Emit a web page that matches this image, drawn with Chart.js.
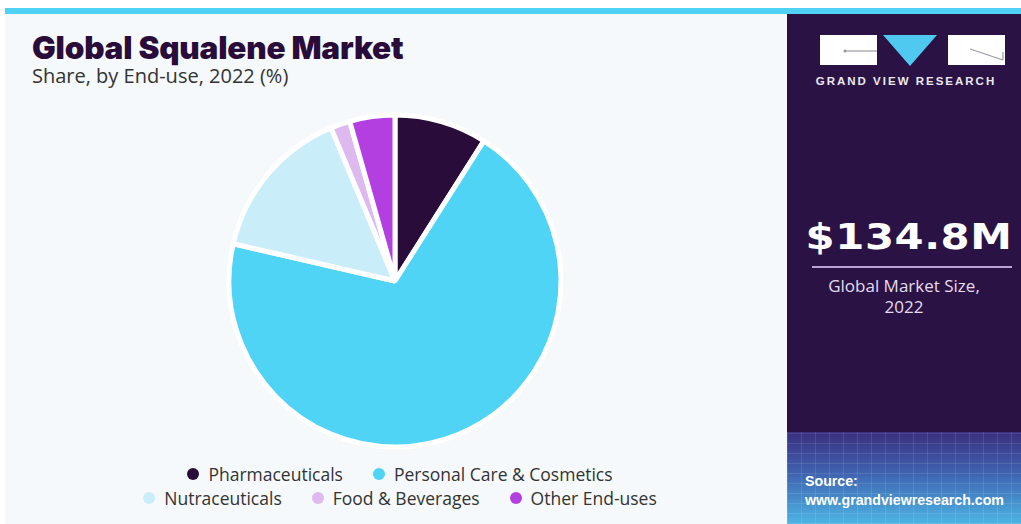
<!DOCTYPE html>
<html>
<head>
<meta charset="utf-8">
<script src="https://cdn.jsdelivr.net/npm/chart.js@4.4.1/dist/chart.umd.min.js"></script>
<style>
  html, body { margin: 0; padding: 0; background: #ffffff; }
  #page { position: relative; width: 1021px; height: 524px; overflow: hidden; background: #ffffff; }
  #topbar { position: absolute; left: 5px; top: 8px; width: 1016px; height: 6px; background: #4fd2f4; }
  #main { position: absolute; left: 5px; top: 14px; width: 782px; height: 510px; background: #f5f9fb; }
  #title { position: absolute; left: 27px; top: 14px; font-family: Inter, sans-serif; font-weight: 900; font-size: 31.5px; color: #2a0c3a; letter-spacing: -0.2px; }
  #subtitle { position: absolute; left: 27px; top: 48px; font-family: "Open Sans", sans-serif; font-size: 20px; color: #333333; }
  #pieBox { position: absolute; left: 210px; top: 87px; width: 360px; height: 360px; }
  #legend { position: absolute; left: 115px; top: 448px; width: 560px; font-family: "Open Sans", sans-serif; font-size: 17.5px; color: #333333; }
  #legend .row { display: flex; justify-content: center; height: 24px; align-items: center; }
  #legend .item { display: flex; align-items: center; margin: 0 15px; white-space: nowrap; }
  #legend .dot { width: 12px; height: 12px; border-radius: 50%; margin-right: 9px; }
  #side { position: absolute; left: 787px; top: 14px; width: 234px; height: 510px; background: #2a1245; }
  #sideFoot { position: absolute; left: 0; top: 418px; width: 234px; height: 92px;
    background:
      repeating-linear-gradient(90deg, rgba(255,255,255,0.10) 0 1px, transparent 1px 14px),
      repeating-linear-gradient(0deg, rgba(255,255,255,0.10) 0 1px, transparent 1px 10px),
      linear-gradient(180deg, #3a2f7e 0%, #3f63b0 45%, #4cb5e3 100%); }
  .logoRect { position: absolute; top: 21px; width: 57px; height: 30px; background: #ffffff; }
  #logoTri { position: absolute; left: 96px; top: 21px; width: 0; height: 0;
    border-left: 27px solid transparent; border-right: 27px solid transparent; border-top: 31px solid #4fc9ef; }
  #logoText { position: absolute; left: 0; top: 61px; width: 234px; padding-left: 2px; text-align: center; font-family: "Liberation Sans", sans-serif; font-weight: bold; font-size: 11.5px; letter-spacing: 2px; color: #ebe8f0; }
  #bigValue { position: absolute; left: 5px; top: 202px; width: 234px; text-align: center; font-family: "DejaVu Sans", sans-serif; font-weight: bold; font-size: 36px; letter-spacing: 0.5px; color: #ffffff; transform: scaleX(1.16); transform-origin: 117px 0; }
  #rule { position: absolute; left: 25px; top: 252px; width: 200px; height: 2px; background: #b9a5d3; }
  #sizeLabel { position: absolute; left: 0; top: 261px; width: 234px; text-align: center; font-family: "Open Sans", sans-serif; font-size: 17px; line-height: 21px; color: #e4dcee; }
  #source { position: absolute; left: 18px; top: 458px; font-family: "Liberation Sans", sans-serif; font-weight: bold; font-size: 14.2px; line-height: 19px; color: #ffffff; }
</style>
</head>
<body>
<div id="page">
  <div id="topbar"></div>
  <div id="main">
    <div id="title">Global Squalene Market</div>
    <div id="subtitle">Share, by End-use, 2022 (%)</div>
    <div id="pieBox"><canvas id="pie" width="360" height="360"></canvas></div>
    <div id="legend"></div>
  </div>
  <div id="side">
    <div class="logoRect" style="left:33px"></div>
    <div id="logoTri"></div>
    <div class="logoRect" style="left:161px"></div>
    <svg style="position:absolute;left:33px;top:21px" width="185" height="30">
      <line x1="25" y1="16" x2="57" y2="16" stroke="#9a9aa6" stroke-width="1.2"/>
      <circle cx="25" cy="16" r="1.5" fill="#9a9aa6"/>
      <line x1="150" y1="14" x2="183" y2="25" stroke="#9a9aa6" stroke-width="1.2"/>
      <line x1="183" y1="17" x2="183" y2="25" stroke="#9a9aa6" stroke-width="1.2"/>
    </svg>
    <div id="logoText">GRAND VIEW RESEARCH</div>
    <div id="bigValue">$134.8M</div>
    <div id="rule"></div>
    <div id="sizeLabel">Global Market Size,<br>2022</div>
    <div id="sideFoot"></div>
    <div id="source">Source:<br>www.grandviewresearch.com</div>
  </div>
</div>
<script>
const categories = ['Pharmaceuticals', 'Personal Care & Cosmetics', 'Nutraceuticals', 'Food & Beverages', 'Other End-uses'];
const shares = [9.0, 69.6, 15.1, 1.9, 4.4];
const sliceColors = ['#2a0c3a', '#4fd4f6', '#c9eef9', '#ddb9ef', '#b43fe0'];
const legendRows = [[0, 1], [2, 3, 4]];

// builds the legend as html from the chart's own label generator
const htmlLegend = {
  id: 'htmlLegend',
  afterUpdate(chart) {
    const box = document.getElementById('legend');
    box.innerHTML = '';
    const items = chart.options.plugins.legend.labels.generateLabels(chart);
    legendRows.forEach(row => {
      const rowEl = document.createElement('div');
      rowEl.className = 'row';
      row.forEach(i => {
        const it = items[i];
        const el = document.createElement('div');
        el.className = 'item';
        el.innerHTML = `<span class="dot" style="background:${it.fillStyle}"></span><span>${it.text}</span>`;
        rowEl.appendChild(el);
      });
      box.appendChild(rowEl);
    });
  }
};

new Chart(document.getElementById('pie'), {
  type: 'pie',
  data: {
    labels: categories,
    datasets: [{
      data: shares,
      backgroundColor: sliceColors,
      borderColor: '#ffffff',
      borderWidth: 5,
      hoverOffset: 0
    }]
  },
  options: {
    responsive: false,
    animation: false,
    radius: 166,
    layout: { padding: 0 },
    plugins: {
      legend: { display: false },
      tooltip: { enabled: false }
    }
  },
  plugins: [htmlLegend]
});
</script>
</body>
</html>
